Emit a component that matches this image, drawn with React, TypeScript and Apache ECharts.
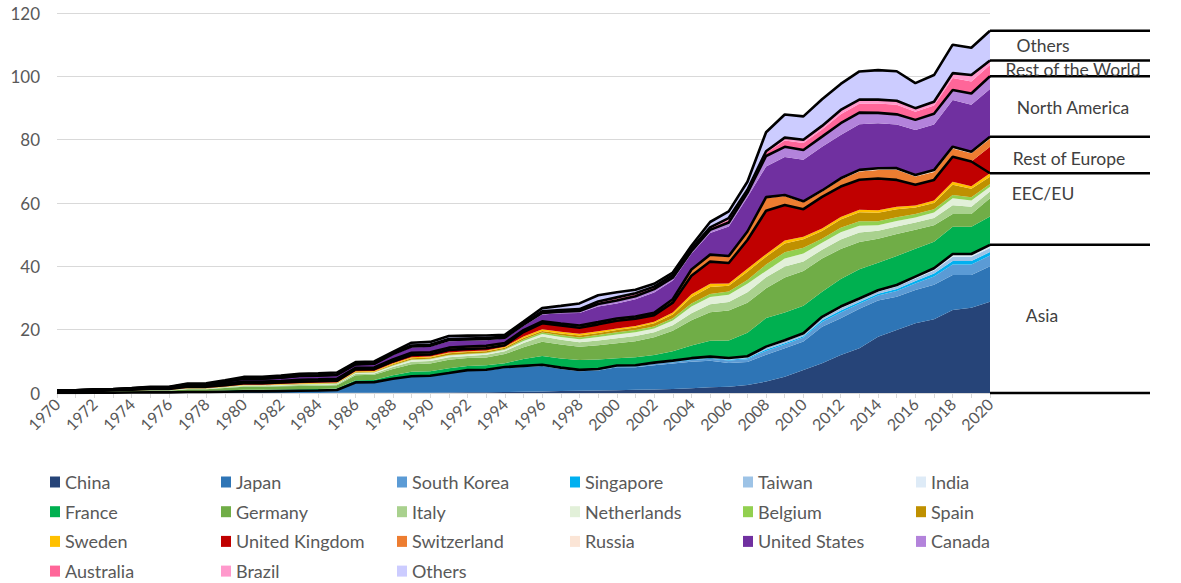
import React, { useEffect, useRef } from "react";
import * as echarts from "echarts";

const years: string[] = Array.from({ length: 51 }, (_, i) => String(1970 + i));
const yTicks = [0, 20, 40, 60, 80, 100, 120];

const china = [0,0,0,0,0,0,0,0,0,0,0,0,0,0,0,0.05, 0.1,0.1,0.1,0.1,0.1,0.15,0.2,0.2,0.3,0.4,0.5,0.6,0.7,0.8,0.9,1.0,1.1,1.3,1.5,1.8,2.0,2.5,3.6,5.1,7.3,9.4,12.0,14.1,17.8,19.9,22.0,23.3,26.2,26.9,28.8];
const japan = [0.05,0.05,0.1,0.1,0.15,0.2,0.2,0.3,0.3,0.4,0.5,0.5,0.6,0.7,0.8,0.9, 3.2,3.3,4.3,5.1,5.2,6.0,6.8,6.9,7.6,7.8,8.0,7.0,6.2,6.3,7.2,7.1,7.7,8.0,8.4,8.4,7.5,7.3,8.5,9.0,9.0,11.5,11.6,12.5,11.4,10.5,10.5,10.9,11.1,10.4,11.2];
const southKorea = [0,0,0,0,0,0,0,0,0,0,0,0,0,0,0,0, 0.03,0.03,0.05,0.05,0.08,0.1,0.12,0.14,0.16,0.2,0.22,0.22,0.2,0.25,0.3,0.35,0.4,0.45,0.55,0.65,0.75,0.85,1.2,1.2,1.2,1.5,1.8,1.6,1.6,1.8,2.1,2.6,3.3,3.3,3.4];
const singapore = [0,0,0,0,0,0,0,0,0,0,0,0,0,0,0,0, 0,0,0.01,0.01,0.02,0.02,0.03,0.03,0.04,0.05,0.06,0.06,0.06,0.07,0.1,0.1,0.12,0.15,0.18,0.2,0.25,0.3,0.45,0.45,0.45,0.55,0.65,0.55,0.55,0.65,0.75,0.9,1.1,1.1,1.1];
const taiwan = [0,0,0,0,0,0,0,0,0,0,0,0,0,0,0,0, 0.01,0.01,0.02,0.02,0.03,0.04,0.05,0.06,0.07,0.08,0.1,0.1,0.1,0.12,0.15,0.17,0.2,0.22,0.25,0.3,0.35,0.4,0.55,0.55,0.55,0.65,0.75,0.65,0.65,0.75,0.8,1.0,1.3,1.3,1.3];
const india = [0,0,0,0,0,0,0,0,0,0,0,0,0,0,0,0, 0,0,0,0.01,0.01,0.01,0.02,0.02,0.02,0.03,0.03,0.03,0.03,0.04,0.05,0.06,0.08,0.1,0.12,0.15,0.2,0.25,0.35,0.35,0.35,0.45,0.5,0.45,0.45,0.5,0.6,0.7,0.9,0.9,1.0];
const france = [0.1,0.1,0.15,0.15,0.2,0.2,0.2,0.3,0.3,0.4,0.5,0.5,0.5,0.5,0.5,0.5, 0.7,0.7,1.1,1.4,1.4,1.5,1.3,1.4,1.2,2.2,2.8,2.9,3.1,3.0,2.3,2.5,2.4,3.0,4.0,5.0,5.5,7.4,9.0,8.8,8.7,7.9,8.7,9.2,8.7,9.2,8.8,8.4,8.6,8.6,8.9];
const germany = [0.2,0.2,0.25,0.25,0.3,0.35,0.35,0.6,0.6,0.8,1.0,1.0,1.0,1.0,1.0,1.0, 1.6,1.6,2.0,2.4,2.5,2.7,2.5,2.5,2.9,3.7,4.5,4.4,4.2,4.5,4.7,5.1,5.6,6.4,8.0,9.0,9.5,9.5,9.4,11.0,11.0,10.5,9.5,8.6,7.6,6.9,6.0,5.2,4.0,4.0,5.8];
const italy = [0.05,0.05,0.05,0.05,0.05,0.1,0.1,0.1,0.1,0.15,0.2,0.2,0.25,0.3,0.3,0.3, 0.4,0.4,0.6,0.8,0.8,0.8,0.7,0.8,0.9,1.3,1.6,1.5,1.4,1.5,1.6,1.6,1.6,1.8,2.2,2.5,2.7,3.3,3.5,3.5,3.0,2.8,3.0,3.0,2.5,2.4,2.3,2.3,2.8,2.3,2.1];
const netherlands = [0.02,0.02,0.03,0.03,0.03,0.05,0.05,0.1,0.1,0.1,0.15,0.15,0.15,0.2,0.2,0.2, 0.3,0.3,0.4,0.5,0.5,0.5,0.5,0.5,0.5,0.7,0.8,0.9,1.0,1.1,1.2,1.2,1.2,1.5,2.1,2.3,2.3,2.7,2.0,2.5,2.5,2.2,2.3,2.2,1.7,1.7,1.6,1.7,2.2,2.0,1.5];
const belgium = [0.02,0.02,0.02,0.02,0.03,0.03,0.03,0.05,0.05,0.05,0.08,0.08,0.08,0.1,0.1,0.1, 0.1,0.1,0.2,0.2,0.2,0.2,0.2,0.2,0.2,0.4,0.5,0.5,0.5,0.6,0.7,0.7,0.6,0.7,1.0,1.0,1.0,1.2,2.0,2.0,1.8,1.3,1.4,1.4,1.3,1.2,1.1,1.0,1.0,1.0,0.9];
const spain = [0.01,0.01,0.01,0.01,0.02,0.02,0.02,0.03,0.03,0.05,0.05,0.05,0.08,0.1,0.1,0.1, 0.2,0.2,0.3,0.4,0.4,0.5,0.5,0.4,0.4,0.5,0.5,0.6,0.7,0.7,0.7,0.8,1.0,1.2,1.9,2.2,1.8,2.6,2.5,2.8,2.7,2.4,2.6,2.8,2.7,2.5,2.0,2.0,3.3,2.7,2.3];
const sweden = [0.05,0.05,0.05,0.05,0.05,0.08,0.08,0.1,0.1,0.12,0.15,0.15,0.15,0.2,0.2,0.2, 0.2,0.2,0.3,0.3,0.3,0.3,0.3,0.3,0.3,0.5,0.5,0.5,0.5,0.5,0.5,0.5,0.5,0.6,1.0,1.0,0.7,0.9,0.8,0.9,0.8,0.8,0.8,0.8,0.8,0.8,0.7,0.8,0.9,0.8,1.1];
const unitedKingdom = [0.15,0.15,0.2,0.25,0.3,0.35,0.35,0.5,0.5,0.6,0.7,0.7,0.75,0.8,0.8,0.8, 0.8,0.8,0.9,1.0,0.9,1.1,1.0,1.0,0.8,1.4,1.9,2.0,1.9,2.2,2.4,2.3,2.1,3.1,5.8,7.0,6.5,9.1,13.7,11.2,8.7,10.0,9.6,9.5,10.0,8.5,6.5,6.5,7.9,7.8,8.4];
const switzerland = [0.05,0.05,0.05,0.05,0.07,0.1,0.1,0.15,0.15,0.2,0.25,0.25,0.25,0.3,0.3,0.3, 0.3,0.3,0.3,0.4,0.4,0.4,0.4,0.4,0.3,0.5,0.5,0.5,0.6,0.6,0.6,0.6,0.6,1.0,1.8,2.0,2.0,2.5,4.0,2.9,2.2,1.6,2.2,2.6,2.7,3.2,2.6,2.5,2.6,2.6,2.5];
const russia = [0,0,0,0,0,0,0,0,0,0,0,0,0,0,0,0, 0,0,0,0,0,0,0.05,0.05,0.1,0.1,0.1,0.1,0.1,0.1,0.1,0.1,0.1,0.1,0.2,0.2,0.2,0.2,0.3,0.3,0.3,0.4,0.4,0.5,0.5,0.5,0.5,0.6,0.6,0.5,0.6];
const unitedStates = [0.1,0.1,0.15,0.15,0.2,0.3,0.3,0.4,0.45,0.6,0.8,0.8,0.9,1.0,1.0,1.1, 0.9,1.0,1.4,1.7,1.8,2.0,1.85,1.75,1.4,1.3,2.2,3.3,4.0,4.9,4.8,5.4,6.4,5.9,5.0,6.8,9.3,10.8,9.7,12.0,13.1,13.8,13.7,14.4,14.2,13.8,14.2,14.4,14.7,14.8,15.1];
const canada = [0.02,0.02,0.02,0.02,0.03,0.03,0.03,0.05,0.05,0.08,0.1,0.1,0.1,0.15,0.15,0.15, 0.2,0.2,0.3,0.3,0.3,0.4,0.4,0.4,0.3,0.4,0.5,0.5,0.6,0.8,0.9,1.0,1.1,0.9,0.8,1.0,1.3,1.4,3.3,3.2,3.1,3.2,3.7,3.7,3.3,3.2,3.2,3.4,3.2,3.6,4.0];
const australia = [0.01,0.01,0.01,0.01,0.02,0.02,0.02,0.03,0.03,0.05,0.08,0.08,0.1,0.1,0.1,0.1, 0.1,0.1,0.2,0.2,0.2,0.2,0.2,0.2,0.2,0.3,0.3,0.3,0.4,0.5,0.6,0.6,0.5,0.5,0.5,0.5,0.8,0.6,1.0,2.0,2.2,2.3,2.8,2.8,3.0,3.0,2.6,2.6,3.8,3.8,3.6];
const brazil = [0,0,0,0,0,0,0,0.01,0.01,0.02,0.02,0.02,0.03,0.05,0.05,0.05, 0.05,0.05,0.05,0.1,0.1,0.1,0.1,0.1,0.1,0.1,0.2,0.2,0.2,0.3,0.4,0.3,0.3,0.3,0.3,0.3,0.6,0.4,0.5,0.9,1.0,1.1,1.4,1.3,1.2,1.3,1.1,1.2,1.5,2.0,1.4];
const others = [0.05,0.05,0.08,0.1,0.1,0.15,0.15,0.3,0.3,0.4,0.5,0.5,0.55,0.6,0.6,0.6, 0.55,0.55,0.45,0.9,0.9,1.0,0.9,0.8,0.6,0.6,1.0,1.3,1.8,2.0,1.6,1.1,0.9,0.8,0.9,1.7,2.1,2.5,6.0,7.3,7.4,8.4,8.2,8.9,9.3,9.3,7.9,8.4,9.0,8.6,9.4];

const seriesNames = ["China","Japan","South Korea","Singapore","Taiwan","India","France","Germany","Italy","Netherlands","Belgium","Spain","Sweden","United Kingdom","Switzerland","Russia","United States","Canada","Australia","Brazil","Others"];
const seriesValues = [china,japan,southKorea,singapore,taiwan,india,france,germany,italy,netherlands,belgium,spain,sweden,unitedKingdom,switzerland,russia,unitedStates,canada,australia,brazil,others];
const seriesColors = ["#264478","#2E75B6","#5B9BD5","#00B0F0","#9DC3E6","#DEEBF7","#00B050","#70AD47","#A9D18E","#E2F0D9","#92D050","#BF9000","#FFC000","#C00000","#ED7D31","#FBE5D6","#7030A0","#B383DB","#FF6699","#FF99CC","#CCCCFF"];

// group membership (EEC/EU membership years for members that joined/left)
const asiaMembers = ["China","Japan","South Korea","Singapore","Taiwan","India"];
const europeMembers = ["France","Germany","Italy","Netherlands","Belgium","Spain","Sweden","United Kingdom","Switzerland","Russia"];
const euFounders = ["France","Germany","Italy","Netherlands","Belgium"];
const euJoinLeave: Record<string, [number, number]> = { "Spain": [1986, 9999], "Sweden": [1995, 9999], "United Kingdom": [1973, 2019] };
const northAmericaMembers = ["United States","Canada"];
const restOfWorldMembers = ["Australia","Brazil"];
const othersMembers = ["Others"];

const groupLabels = ["Asia","EEC/EU","Rest of Europe","North America","Rest of the World","Others"];

const legendColumns = [
  ["China","France","Sweden","Australia"],
  ["Japan","Germany","United Kingdom","Brazil"],
  ["South Korea","Italy","Switzerland","Others"],
  ["Singapore","Netherlands","Russia"],
  ["Taiwan","Belgium","United States"],
  ["India","Spain","Canada"],
];
const legendLefts = [50, 221, 397, 570, 743, 916];

const val = (name: string, i: number) => seriesValues[seriesNames.indexOf(name)][i];
const sumOf = (names: string[], i: number) => names.reduce((s, n) => s + val(n, i), 0);

const asiaLine = years.map((_, i) => sumOf(asiaMembers, i));
const euLine = years.map((y, i) => {
  const yr = Number(y);
  let s = asiaLine[i] + sumOf(euFounders, i);
  Object.keys(euJoinLeave).forEach((n) => {
    const [a, b] = euJoinLeave[n];
    if (yr >= a && yr <= b) s += val(n, i);
  });
  return s;
});
const roeLine = years.map((_, i) => asiaLine[i] + sumOf(europeMembers, i));
const naLine = years.map((_, i) => roeLine[i] + sumOf(northAmericaMembers, i));
const rowLine = years.map((_, i) => naLine[i] + sumOf(restOfWorldMembers, i));
const totalLine = years.map((_, i) => rowLine[i] + sumOf(othersMembers, i));
const boundaryLines = [asiaLine, euLine, roeLine, naLine, rowLine, totalLine];

const FONT = "Lato, 'Open Sans', sans-serif";

export default function App() {
  const ref = useRef<HTMLDivElement>(null);
  useEffect(() => {
    document.body.style.margin = "0";
    const chart = echarts.init(ref.current!, null, { renderer: "svg" });
    const areaSeries = seriesNames.map((name, k) => ({
      name,
      type: "line",
      stack: "total",
      data: seriesValues[k],
      symbol: "none",
      lineStyle: { width: 0 },
      itemStyle: { color: seriesColors[k] },
      areaStyle: { color: seriesColors[k], opacity: 1 },
      z: 2,
    }));
    const lineSeries = boundaryLines.map((d, k) => ({
      name: "line-" + groupLabels[k],
      type: "line",
      data: d,
      symbol: "none",
      silent: true,
      lineStyle: { color: "#000", width: 2.6 },
      z: 3,
    }));
    const legends = legendColumns.map((col, c) => ({
      orient: "vertical",
      left: legendLefts[c],
      top: 473,
      height: 110,
      padding: 0,
      data: col,
      icon: "rect",
      itemWidth: 10,
      itemHeight: 11,
      itemGap: 11.7,
      selectedMode: false,
      textStyle: { fontSize: 18, lineHeight: 18, color: "#595959", fontFamily: FONT },
    }));
    chart.setOption({
      animation: false,
      textStyle: { fontFamily: FONT },
      grid: { left: 57, right: 191, top: 13, bottom: 190, containLabel: false },
      legend: legends,
      xAxis: {
        type: "category",
        data: years,
        boundaryGap: false,
        axisLine: { lineStyle: { color: "#d9d9d9", width: 1 } },
        axisTick: { show: true, interval: 0, length: 5, lineStyle: { color: "#d9d9d9" } },
        axisLabel: { interval: 1, rotate: 45, fontSize: 16, color: "#595959", margin: 8, fontFamily: FONT },
        splitLine: { show: false },
      },
      yAxis: {
        type: "value",
        min: yTicks[0],
        max: yTicks[yTicks.length - 1],
        interval: yTicks[1] - yTicks[0],
        axisLine: { show: false },
        axisTick: { show: false },
        axisLabel: { fontSize: 17, color: "#595959", margin: 17, fontFamily: FONT },
        splitLine: { lineStyle: { color: "#d9d9d9", width: 1 } },
      },
      series: [...areaSeries, ...lineSeries],
    });

    const last = years.length - 1;
    const px = (v: number) => chart.convertToPixel({ gridIndex: 0 }, [last, v]) as number[];
    const xEnd = px(0)[0];
    const bounds = [0, ...boundaryLines.map((d) => d[last])];
    const ys = bounds.map((b) => px(b)[1]);
    const lineLen = 160;
    const labelSpec = [
      { dx: 52, frac: 0.48 },
      { dx: 53, frac: 0.29 },
      { dx: 79, frac: 0.59 },
      { dx: 83, frac: 0.51 },
      { dx: 83, frac: 0.56 },
      { dx: 53, frac: 0.5 },
    ];
    const graphics: any[] = [];
    ys.forEach((y) => {
      graphics.push({
        type: "line",
        shape: { x1: xEnd, y1: y, x2: xEnd + lineLen, y2: y },
        style: { stroke: "#000", lineWidth: 2.5 },
        z: 10,
      });
    });
    groupLabels.forEach((label, k) => {
      const yBottom = ys[k];
      const yTop = ys[k + 1];
      const y = yTop + labelSpec[k].frac * (yBottom - yTop);
      graphics.push({
        type: "text",
        x: xEnd + labelSpec[k].dx,
        y,
        style: {
          text: label,
          fill: "#404040",
          font: "17.5px " + FONT,
          textAlign: "center",
          textVerticalAlign: "middle",
          align: "center",
          verticalAlign: "middle",
        },
        z: 10,
      });
    });
    chart.setOption({ graphic: graphics });
    return () => chart.dispose();
  }, []);
  return <div ref={ref} style={{ width: 1181, height: 583 }} />;
}
